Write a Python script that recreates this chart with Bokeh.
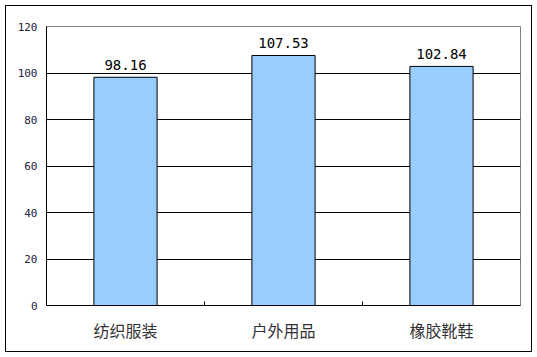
from bokeh.plotting import figure
from bokeh.models import ColumnDataSource, Range1d, FixedTicker, LabelSet
from bokeh.core.properties import value
from bokeh.embed import file_html
from bokeh.resources import INLINE

categories = ["纺织服装", "户外用品", "橡胶靴鞋"]
values = [98.16, 107.53, 102.84]
y_ticks = [0, 20, 40, 60, 80, 100, 120]

positions = [i + 0.5 for i in range(len(categories))]
labels = [f"{v:.2f}" for v in values]

source = ColumnDataSource(dict(x=positions, top=values, label=labels))

p = figure(width=537, height=357, output_backend="svg", toolbar_location=None,
           x_range=Range1d(0, len(categories)), y_range=Range1d(0, 120),
           min_border_left=46, min_border_right=17,
           min_border_top=26, min_border_bottom=52)

# transparent border area so the page-level frame line shows through
p.background_fill_color = "white"
p.border_fill_color = None
p.styles = {"background-color": "white",
            "outline": "1.5px solid black",
            "outline-offset": "-6px"}
p.outline_line_color = "#808080"
p.outline_line_width = 1

# bars
p.vbar(x="x", top="top", width=0.4, source=source,
       fill_color="#99CCFF", line_color="black", line_width=1)

# value labels above bars
p.add_layout(LabelSet(x="x", y="top", text="label", source=source,
                      text_align="center", text_baseline="alphabetic",
                      y_offset=7, text_font=value("DejaVu Sans Mono"),
                      text_font_size=value("14px"), text_color="black"))

# x axis: category names at centers, small inward ticks at boundaries
p.xaxis.ticker = FixedTicker(ticks=positions,
                             minor_ticks=list(range(1, len(categories))))
p.xaxis.major_label_overrides = {x: c for x, c in zip(positions, categories)}
p.xaxis.major_tick_line_color = None
p.xaxis.major_tick_in = 0
p.xaxis.major_tick_out = 0
p.xaxis.minor_tick_in = 4
p.xaxis.minor_tick_out = 0
p.xaxis.minor_tick_line_color = "black"
p.xaxis.axis_line_color = "black"
p.xaxis.major_label_text_font = "Noto Sans CJK SC"
p.xaxis.major_label_text_font_size = "16px"
p.xaxis.major_label_text_color = "#333333"
p.xaxis.major_label_standoff = 12

# y axis
p.yaxis.ticker = FixedTicker(ticks=y_ticks)
p.yaxis.major_tick_line_color = None
p.yaxis.major_tick_in = 0
p.yaxis.major_tick_out = 0
p.yaxis.minor_tick_line_color = None
p.yaxis.axis_line_color = "black"
p.yaxis.major_label_text_font = "DejaVu Sans Mono"
p.yaxis.major_label_text_font_size = "11px"
p.yaxis.major_label_text_color = "#222244"
p.yaxis.major_label_standoff = 9

# grid
p.xgrid.grid_line_color = None
p.ygrid.ticker = FixedTicker(ticks=y_ticks[1:-1])
p.ygrid.grid_line_color = "black"
p.ygrid.grid_line_width = 1

open("out.html", "w").write(file_html(p, INLINE))
